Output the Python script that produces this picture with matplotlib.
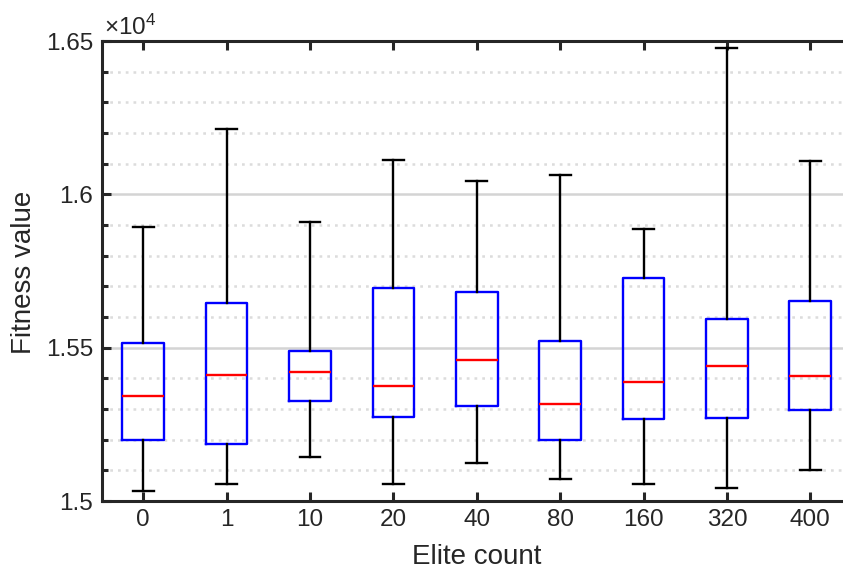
"""
Boxplot of fitness value vs elite count (MATLAB-style look).
"""
import matplotlib
matplotlib.use("Agg")
import matplotlib.pyplot as plt
from matplotlib.ticker import MultipleLocator, FuncFormatter

plt.rcParams["font.family"] = ["Liberation Sans", "DejaVu Sans"]
plt.rcParams["mathtext.fontset"] = "custom"
plt.rcParams["mathtext.rm"] = "Liberation Sans"
plt.rcParams["mathtext.it"] = "Liberation Sans:italic"

# ---------------------------------------------------------------------------
# Data
# ---------------------------------------------------------------------------
elite_counts = ["0", "1", "10", "20", "40", "80", "160", "320", "400"]
whisker_low = [15033, 15054, 15143, 15054, 15124, 15072, 15055, 15041, 15102]
q1 = [15198, 15187, 15327, 15275, 15310, 15199, 15267, 15270, 15296]
median = [15343, 15412, 15420, 15375, 15460, 15316, 15388, 15441, 15409]
q3 = [15515, 15647, 15489, 15694, 15681, 15522, 15727, 15593, 15651]
whisker_high = [15893, 16213, 15910, 16112, 16043, 16063, 15887, 16477, 16108]

TXT = "#262626"

# ---------------------------------------------------------------------------
# Plot
# ---------------------------------------------------------------------------
fig = plt.figure(figsize=(8.43, 5.69), dpi=100)
ax = fig.add_axes([101.5 / 843, 68 / 569, 750.5 / 843, 460 / 569])

stats = []
for i, name in enumerate(elite_counts):
    stats.append({
        "label": name,
        "whislo": whisker_low[i],
        "q1": q1[i],
        "med": median[i],
        "q3": q3[i],
        "whishi": whisker_high[i],
        "fliers": [],
    })

ax.bxp(stats, positions=range(1, len(stats) + 1), widths=0.5,
       showfliers=False, patch_artist=False,
       boxprops=dict(color="blue", linewidth=1.7),
       medianprops=dict(color="red", linewidth=1.7),
       whiskerprops=dict(color="black", linewidth=1.7),
       capprops=dict(color="black", linewidth=1.7),
       capwidths=0.25, zorder=3)

ax.set_xlim(0.5, len(stats) + 0.5)
ax.set_ylim(15000, 16500)

ax.yaxis.set_major_locator(MultipleLocator(500))
ax.yaxis.set_minor_locator(MultipleLocator(100))
ax.yaxis.set_major_formatter(FuncFormatter(lambda v, p: f"{v / 1e4:g}"))

ax.grid(True, which="major", axis="y", color="#d4d4d4", linewidth=1.8,
        linestyle="-", zorder=0)
ax.grid(True, which="minor", axis="y", color="#dcdcdc", linewidth=1.8,
        linestyle=(0, (1.1, 2.0)), zorder=0)
ax.set_axisbelow(True)

for sp in ax.spines.values():
    sp.set_linewidth(2.2)
    sp.set_color(TXT)

ax.tick_params(axis="both", which="major", direction="in", length=6.5,
               width=2.2, color=TXT, labelcolor=TXT, labelsize=17.5,
               top=True, right=True)
ax.tick_params(axis="y", which="minor", direction="in", length=4.5,
               width=2.2, color=TXT, right=True)
ax.tick_params(axis="x", pad=6)
ax.tick_params(axis="y", pad=6)

ax.set_xlabel("Elite count", fontsize=20, color=TXT, va="baseline")
ax.set_ylabel("Fitness value", fontsize=20, color=TXT, va="center")
ax.xaxis.set_label_coords(0.5, -63 / 460)
ax.yaxis.set_label_coords((24 - 101.5) / 750.5, 0.497)

ax.text(0.003, 1 + 6 / 460, r"$\times10^{4}$", transform=ax.transAxes,
        fontsize=17.5, color=TXT, ha="left", va="baseline")

fig.savefig("out.png", dpi=100)
